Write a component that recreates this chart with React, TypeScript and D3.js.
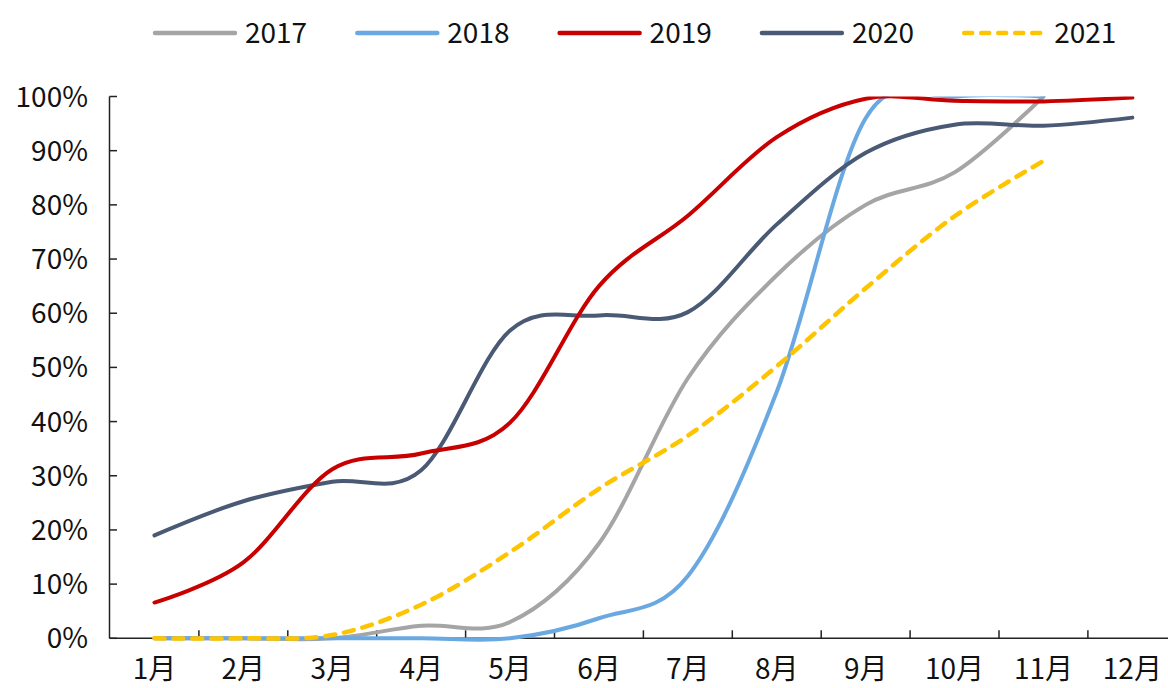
import React from 'react';
import * as d3 from 'd3';

const months = ['1月', '2月', '3月', '4月', '5月', '6月', '7月', '8月', '9月', '10月', '11月', '12月'];
const yTicks = [0, 10, 20, 30, 40, 50, 60, 70, 80, 90, 100];

const s2017 = [0, 0, 0, 2.3, 3, 17.5, 48, 67, 80, 86, 100];
const s2018 = [0, 0, 0, 0, 0, 3.7, 11.5, 45.5, 96, 100, 100];
const s2019 = [6.6, 14, 31.2, 34.1, 39.8, 65, 78, 92.5, 99.6, 99.2, 99.1, 99.8];
const s2020 = [19, 25.3, 28.9, 31, 56.8, 59.6, 60.2, 76.4, 89.6, 94.8, 94.6, 96.1];
const s2021 = [0, 0, 0.6, 6.2, 15.9, 27.6, 37.4, 50.2, 64.6, 77.9, 88.1];

const seriesNames = ['2017', '2018', '2019', '2020', '2021'];
const seriesData = [s2017, s2018, s2019, s2020, s2021];
const seriesColors = ['#A5A5A5', '#6AA8E2', '#C80000', '#4A5A75', '#FFC400'];
const seriesDash = [null, null, null, null, '10 9'];
const drawOrder = [0, 1, 3, 2, 4];

const W = 1168;
const H = 688;
const left = 110;
const bandW = 88.9;
const y0 = 638.3;
const y100 = 96.5;
const FONT = '"Noto Sans CJK SC", "Noto Sans", sans-serif';

export default function App() {
  const x = d3.scaleBand<string>().domain(months).range([left, left + bandW * months.length]);
  const y = d3.scaleLinear().domain([0, 100]).range([y0, y100]);
  const cx = (i: number) => (x(months[i]) as number) + x.bandwidth() / 2;
  const line = d3
    .line<number>()
    .x((_, i) => cx(i))
    .y((d) => y(d))
    .curve(d3.curveCatmullRom.alpha(0));

  const axisRight = left + bandW * months.length;

  return (
    <svg
      width={W}
      height={H}
      style={{ position: 'absolute', left: 0, top: 0, background: '#fff' }}
      fontFamily={FONT}
    >
      <defs>
        <clipPath id="plot">
          <rect x={left} y={y(100)} width={axisRight - left + 20} height={y(0) - y(100) + 10} />
        </clipPath>
      </defs>

      {/* legend */}
      {seriesNames.map((name, i) => {
        const lx = 153 + i * 202.3;
        return (
          <g key={name}>
            <line
              x1={lx + 2}
              x2={lx + 82}
              y1={33}
              y2={33}
              stroke={seriesColors[i]}
              strokeWidth={4.5}
              strokeLinecap="round"
              strokeDasharray={seriesDash[i] ? '8 9' : undefined}
            />
            <text x={lx + 92} y={43} fontSize={28} fill="#111">
              {name}
            </text>
          </g>
        );
      })}

      {/* y axis */}
      <line x1={left - 0.5} x2={left - 0.5} y1={y(0)} y2={y(100)} stroke="#222" strokeWidth={1.5} />
      {yTicks.map((t) => (
        <g key={t}>
          <line x1={left - 0.5} x2={left + 7} y1={y(t)} y2={y(t)} stroke="#222" strokeWidth={1.5} />
          <text x={88} y={y(t) + 10} fontSize={28} textAnchor="end" fill="#111">
            {t}%
          </text>
        </g>
      ))}

      {/* x axis */}
      <line x1={left - 0.5} x2={axisRight} y1={y(0)} y2={y(0)} stroke="#222" strokeWidth={1.5} />
      {months.map((m, i) =>
        i > 0 ? (
          <line
            key={'t' + m}
            x1={x(m) as number}
            x2={x(m) as number}
            y1={y(0)}
            y2={y(0) - 8}
            stroke="#222"
            strokeWidth={1.5}
          />
        ) : null
      )}
      {months.map((m, i) => (
        <text key={m} x={cx(i)} y={679} fontSize={28} textAnchor="middle" fill="#111">
          {m}
        </text>
      ))}

      {/* series */}
      <g clipPath="url(#plot)">
        {drawOrder.map((i) => (
          <path
            key={seriesNames[i]}
            d={line(seriesData[i]) as string}
            fill="none"
            stroke={seriesColors[i]}
            strokeWidth={i === 4 ? 4.5 : 4}
            strokeLinecap="round"
            strokeLinejoin="round"
            strokeDasharray={seriesDash[i] ?? undefined}
          />
        ))}
      </g>
    </svg>
  );
}
